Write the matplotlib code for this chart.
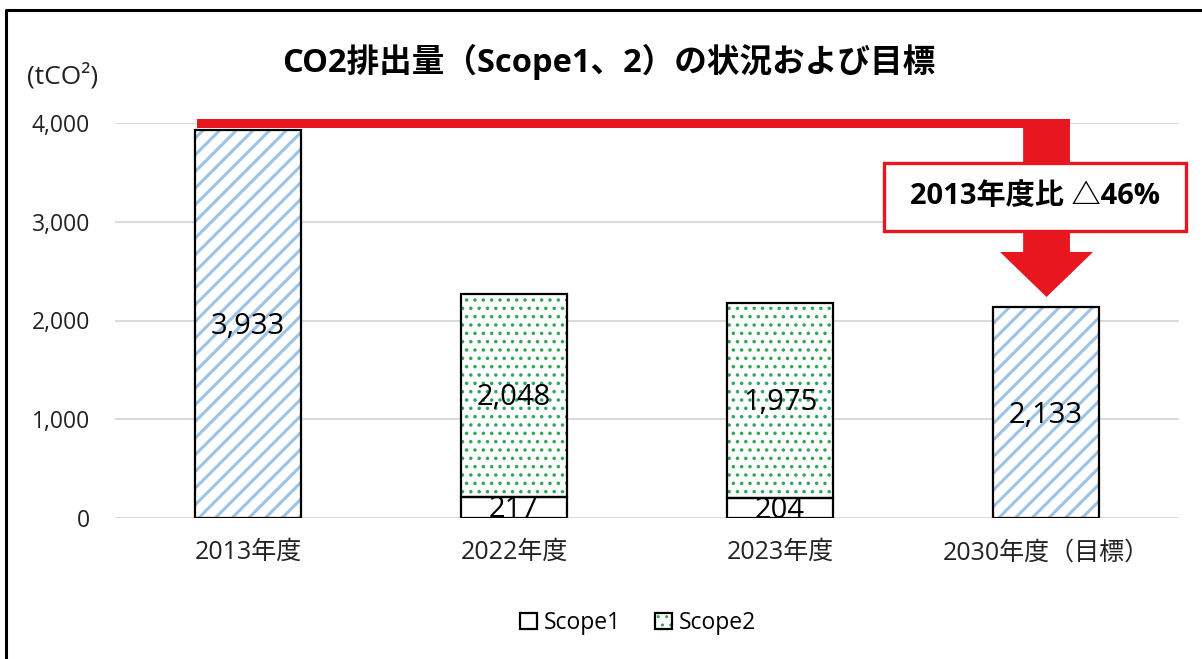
import matplotlib
matplotlib.use("Agg")
import matplotlib.pyplot as plt
from matplotlib.patches import Patch, Rectangle, Polygon
from matplotlib.lines import Line2D
from matplotlib.ticker import FuncFormatter

plt.rcParams['font.family'] = ['Open Sans', 'Noto Sans CJK JP', 'DejaVu Sans']

# ---- data ----
categories = ['2013年度', '2022年度', '2023年度', '2030年度（目標）']
base_total = [3933, None, None, None]       # 2013 total (blue hatch)
target_total = [None, None, None, 2133]     # 2030 target (blue hatch)
scope1 = [None, 217, 204, None]
scope2 = [None, 2048, 1975, None]
yticks = [0, 1000, 2000, 3000, 4000]
title = 'CO2排出量（Scope1、2）の状況および目標'
unit_label = '(tCO²)'
callout_text = '2013年度比 △46%'

BLUE = '#9DC3E6'
GREEN = '#2FA65A'
RED = '#E8171F'
W = 0.4

fig = plt.figure(figsize=(12.02, 6.59), dpi=100)
ax = fig.add_axes([115/1202, 1-518/659, (1179-115)/1202, (518-123)/659])
x = list(range(len(categories)))

def draw(xs, vals, bottoms, hatch, hcolor, hlw):
    pairs = [(xi, v, b) for xi, v, b in zip(xs, vals, bottoms) if v is not None]
    px = [p[0] for p in pairs]; pv = [p[1] for p in pairs]; pb = [p[2] for p in pairs]
    if hatch:
        with plt.rc_context({'hatch.linewidth': hlw}):
            ax.bar(px, pv, W, bottom=pb, facecolor='white', edgecolor=hcolor,
                   hatch=hatch, linewidth=0, zorder=2)
    else:
        ax.bar(px, pv, W, bottom=pb, facecolor='white', linewidth=0, zorder=2)
    ax.bar(px, pv, W, bottom=pb, fill=False, edgecolor='black', linewidth=1.6, zorder=3)
    return pairs

zeros = [0]*len(x)
p_base = draw(x, base_total, zeros, '//', BLUE, 2.2)
p_tgt = draw(x, target_total, zeros, '//', BLUE, 2.2)
p_s1 = draw(x, scope1, zeros, None, None, 1)
s2_bottom = [s if s is not None else 0 for s in scope1]
p_s2 = draw(x, scope2, s2_bottom, '..', GREEN, 1.3)

lab_fs = 21
for pairs in (p_base, p_tgt, p_s1, p_s2):
    for xi, v, b in pairs:
        ax.text(xi, b + v/2 - 25, f'{v:,}', ha='center', va='center', fontsize=lab_fs,
                color='black', zorder=5)

ax.set_xlim(-0.5, len(categories)-0.5)
ax.set_ylim(0, 4000)
ax.set_yticks(yticks)
ax.yaxis.set_major_formatter(FuncFormatter(lambda v, p: f'{int(v):,}'))
ax.set_xticks(x)
ax.set_xticklabels(categories)
ax.tick_params(axis='y', length=0, pad=18, labelsize=16.5, labelcolor='#222222')
ax.tick_params(axis='x', length=0, pad=16, labelsize=18, labelcolor='#222222')
ax.grid(axis='y', color='#D9D9D9', linewidth=1.4, zorder=0)
ax.set_axisbelow(True)
for s in ax.spines.values():
    s.set_visible(False)

# ---- red callout (annotation) ----
line_y0, line_y1 = 3950, 4040
ax.add_patch(Rectangle((-0.19, line_y0), 3.09+0.19, line_y1-line_y0, facecolor=RED,
                       edgecolor='none', clip_on=False, zorder=6))
tip_x = x[3] + 0.002
arrow = Polygon([(2.914, line_y1), (3.090, line_y1), (3.090, 2694), (3.177, 2694),
                 (tip_x, 2238), (2.827, 2694), (2.914, 2694)],
                closed=True, facecolor=RED, edgecolor='none', clip_on=False, zorder=6)
ax.add_patch(arrow)
ax.add_patch(Rectangle((2.391, 2906), 3.526-2.391, 3595-2906, facecolor='white',
                       edgecolor=RED, linewidth=2.4, clip_on=False, zorder=7))
ax.text(2.959, 3251, callout_text, ha='center', va='center', fontsize=21,
        fontweight='bold', color='black', zorder=8)

# ---- title & unit ----
fig.text(609/1202, 1-62/659, title, ha='center', va='center', fontsize=23.5,
         fontweight='bold', color='black')
fig.text(27/1202, 1-76/659, unit_label, ha='left', va='center', fontsize=19,
         color='#222222')

# ---- legend ----
h1 = Patch(facecolor='white', edgecolor='black', linewidth=1.6)
with plt.rc_context({'hatch.linewidth': 1.3}):
    h2a = Patch(facecolor='white', edgecolor=GREEN, hatch='..', linewidth=0)
h2b = Patch(fill=False, edgecolor='black', linewidth=1.6)
fig.legend([h1, (h2a, h2b)], ['Scope1', 'Scope2'], loc='center',
           bbox_to_anchor=(638/1202, 1-623/659), ncol=2, frameon=False,
           fontsize=16.5, handlelength=0.75, handleheight=0.75, handletextpad=0.3,
           columnspacing=1.5)

# ---- outer frame ----
fig.add_artist(Line2D([6/1202, 6/1202, 1.05], [-0.05, 1-10/659, 1-10/659],
                      transform=fig.transFigure, color='black', linewidth=2.2))

fig.savefig('out.png', dpi=100)
